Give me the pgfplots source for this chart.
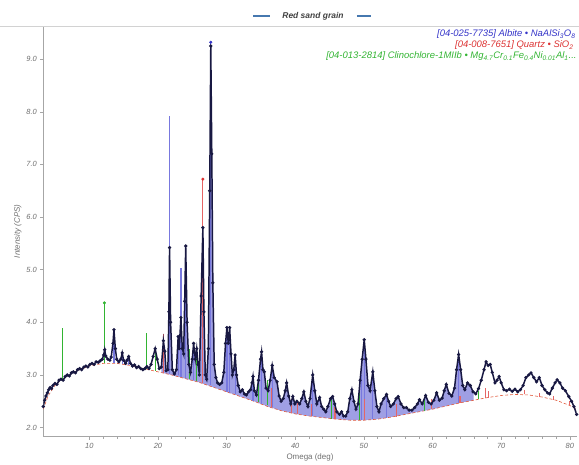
\documentclass[border=0pt]{standalone}
\usepackage{fontspec}
\setmainfont{Liberation Sans}
\usepackage{pgfplots}
\usepackage{pgfplotstable}
\pgfplotsset{compat=1.18}
\usepgfplotslibrary{fillbetween}
\definecolor{obscol}{RGB}{24,24,66}
\definecolor{albcol}{RGB}{52,52,200}
\definecolor{albstick}{RGB}{120,120,222}
\definecolor{albfill}{RGB}{95,95,210}
\definecolor{qzcol}{RGB}{220,50,50}
\definecolor{clcol}{RGB}{50,180,50}
\definecolor{bgcol}{RGB}{225,90,60}
\definecolor{titdash}{RGB}{70,120,175}
\definecolor{txtgray}{RGB}{110,110,110}

\pgfplotstableread{
x y
3.3 2.40
3.5 2.52
3.7 2.60
3.9 2.66
4.1 2.72
4.3 2.76
4.5 2.74
4.7 2.80
5.0 2.84
5.3 2.82
5.6 2.90
5.9 2.92
6.2 2.90
6.5 2.97
6.8 3.00
7.1 2.98
7.4 3.04
7.7 3.06
8.0 3.04
8.3 3.10
8.6 3.12
8.9 3.10
9.2 3.15
9.5 3.17
9.8 3.15
10.1 3.20
10.4 3.22
10.7 3.20
11.0 3.25
11.3 3.24
11.6 3.27
11.9 3.30
12.1 3.38
12.25 3.48
12.4 3.36
12.7 3.30
13.0 3.28
13.2 3.34
13.45 3.60
13.6 3.86
13.8 3.50
14.0 3.30
14.3 3.25
14.6 3.30
14.8 3.42
15.0 3.28
15.3 3.22
15.5 3.28
15.75 3.35
16.0 3.22
16.3 3.17
16.6 3.19
16.9 3.14
17.2 3.16
17.5 3.12
17.8 3.10
18.1 3.12
18.4 3.16
18.7 3.12
19.0 3.20
19.3 3.35
19.6 3.50
19.9 3.30
20.2 3.12
20.5 3.15
20.8 3.65
21.0 3.45
21.2 3.08
21.45 3.10
21.6 4.20
21.7 5.42
21.85 4.00
22.1 3.10
22.4 3.02
22.7 3.10
22.95 3.73
23.1 3.50
23.35 4.09
23.55 3.50
23.75 3.40
23.9 4.40
24.05 5.45
24.25 4.00
24.5 3.20
24.75 3.05
25.0 3.30
25.2 3.60
25.45 3.30
25.65 3.50
25.85 3.20
26.05 3.00
26.3 4.50
26.55 5.80
26.7 4.20
26.9 3.00
27.1 2.92
27.35 3.50
27.55 6.50
27.7 9.25
27.85 7.20
28.0 4.75
28.2 3.20
28.45 2.95
28.7 2.85
29.0 2.82
29.3 2.85
29.6 3.05
29.85 3.60
30.05 3.90
30.25 3.60
30.45 3.90
30.65 3.40
30.85 3.00
31.05 3.10
31.25 3.38
31.45 3.00
31.7 2.80
32.0 2.68
32.3 2.72
32.6 2.64
32.9 2.62
33.2 2.68
33.5 2.72
33.7 2.85
33.85 2.97
34.05 2.70
34.35 2.62
34.65 2.90
34.95 3.30
35.1 3.44
35.3 3.10
35.5 3.06
35.75 2.75
36.05 2.70
36.35 2.90
36.65 3.18
36.95 2.95
37.35 2.87
37.65 2.60
37.95 2.50
38.25 2.55
38.55 2.70
38.75 2.85
39.05 2.60
39.35 2.45
39.65 2.59
39.95 2.45
40.25 2.50
40.65 2.45
40.95 2.55
41.25 2.68
41.55 2.50
41.85 2.40
42.15 2.55
42.55 3.00
42.85 2.70
43.15 2.45
43.55 2.57
43.85 2.40
44.15 2.35
44.45 2.30
44.75 2.40
45.15 2.55
45.45 2.59
45.75 2.45
46.05 2.30
46.45 2.25
46.75 2.30
47.05 2.22
47.35 2.22
47.65 2.30
47.95 2.55
48.25 2.72
48.55 2.50
48.85 2.35
49.15 2.45
49.45 2.90
49.75 3.30
50.05 3.67
50.3 3.30
50.6 2.80
50.9 2.70
51.3 3.06
51.6 2.70
51.9 2.40
52.2 2.30
52.5 2.45
52.9 2.55
53.3 2.63
53.6 2.50
53.9 2.40
54.3 2.45
54.7 2.55
55.0 2.59
55.4 2.45
55.8 2.38
56.2 2.38
56.6 2.33
57.0 2.33
57.4 2.38
57.8 2.45
58.1 2.53
58.5 2.45
59.0 2.61
59.4 2.48
59.8 2.45
60.2 2.52
60.6 2.66
61.0 2.52
61.4 2.56
61.7 2.70
62.0 2.82
62.4 2.65
62.8 2.60
63.2 2.75
63.5 3.10
63.8 3.39
64.1 3.10
64.4 2.80
64.7 2.72
65.1 2.85
65.5 2.80
65.9 2.68
66.3 2.64
66.7 2.74
67.1 2.90
67.5 3.10
67.8 3.25
68.1 3.18
68.4 3.20
68.7 3.05
69.1 2.85
69.4 2.90
69.7 2.97
70.0 2.85
70.4 2.72
70.8 2.70
71.2 2.73
71.6 2.69
72.0 2.73
72.4 2.68
72.8 2.72
73.2 2.80
73.6 2.95
74.0 3.00
74.35 3.04
74.75 2.95
75.15 2.87
75.55 2.95
75.95 2.80
76.35 2.72
76.75 2.66
77.05 2.64
77.45 2.75
77.85 2.85
78.15 2.91
78.55 2.85
78.95 2.75
79.35 2.70
79.85 2.59
80.25 2.50
80.6 2.40
81.0 2.25
}\obsdata

\pgfplotstableread{
x y
3.3 2.35
4 2.60
5 2.80
6 2.92
8 3.07
10 3.17
12 3.22
14 3.22
16 3.18
18 3.12
20 3.06
22 3.00
24 2.93
26 2.86
28 2.77
30 2.68
32 2.59
34 2.50
36 2.40
38 2.32
40 2.26
42 2.22
44 2.19
46 2.16
48 2.14
50 2.14
52 2.16
54 2.20
56 2.25
58 2.30
60 2.35
62 2.41
64 2.47
66 2.52
68 2.57
70 2.61
72 2.63
74 2.62
76 2.58
78 2.52
80 2.42
81 2.35
}\bgdata

\begin{document}
\begin{tikzpicture}
\begin{axis}[
  at={(0,0)}, anchor=south west,
  scale only axis, width=534bp, height=411bp,
  xmin=3.3, xmax=81, ymin=1.83, ymax=9.63,
  set layers,
  axis x line*=bottom, axis y line*=left,
  axis line style={draw=gray!70, line width=0.5pt},
  tick align=outside,
  tick style={draw=gray!70, line width=0.4pt},
  major tick length=3bp, minor tick length=2bp,
  xtick={10,20,...,80}, minor x tick num=4,
  ytick={2,3,...,9},
  yticklabel style={/pgf/number format/.cd, fixed, fixed zerofill, precision=1},
  /pgf/number format/assume math mode=true,
  tick label style={font=\itshape\fontsize{7.5}{9}\selectfont, text=txtgray},
  xlabel={Omega (deg)},
  ylabel={\itshape Intensity (CPS)},
  label style={font=\fontsize{8}{10}\selectfont, text=txtgray},
  xlabel style={yshift=1bp},
  ylabel style={yshift=-2bp},
]
\addplot[name path=bg, bgcol, densely dashed, line width=0.6pt] table[x=x,y=y]{\bgdata};
% sticks: Albite
\addplot[albstick, line width=1.2pt, unbounded coords=jump] coordinates {
(13.6,3.22) (13.6,3.86) (13.6,nan)
(14.8,3.21) (14.8,3.42) (14.8,nan)
(15.75,3.19) (15.75,3.35) (15.75,nan)
(21.7,3.02) (21.7,7.92) (21.7,nan)
(22.95,2.99) (22.95,3.73) (22.95,nan)
(23.35,2.97) (23.35,5.04) (23.35,nan)
(24.05,2.94) (24.05,5.45) (24.05,nan)
(25.2,2.90) (25.2,3.55) (25.2,nan)
(27.7,2.80) (27.7,9.32) (27.7,nan)
(30.05,2.68) (30.05,3.90) (30.05,nan)
(30.45,2.66) (30.45,3.90) (30.45,nan)
(31.25,2.63) (31.25,3.38) (31.25,nan)
(33.85,2.51) (33.85,2.97) (33.85,nan)
(35.1,2.45) (35.1,3.44) (35.1,nan)
(36.65,2.39) (36.65,3.18) (36.65,nan)
(42.55,2.22) (42.55,3.00) (42.55,nan)
(49.6,2.14) (49.6,3.00) (49.6,nan)
(50.05,2.14) (50.05,3.50) (50.05,nan)
(51.3,2.16) (51.3,3.00) (51.3,nan)
(53.3,2.19) (53.3,2.60) (53.3,nan)
(63.8,2.47) (63.8,3.30)
};
% sticks: Quartz
\addplot[qzcol!75, line width=1.1pt, unbounded coords=jump] coordinates {
(20.8,3.04) (20.8,3.77) (20.8,nan)
(26.55,2.84) (26.55,6.72) (26.55,nan)
(36.5,2.40) (36.5,2.75) (36.5,nan)
(39.4,2.28) (39.4,2.55) (39.4,nan)
(40.3,2.26) (40.3,2.50) (40.3,nan)
(42.4,2.22) (42.4,2.45) (42.4,nan)
(45.8,2.17) (45.8,2.40) (45.8,nan)
(50.1,2.14) (50.1,2.55) (50.1,nan)
(54.8,2.21) (54.8,2.45) (54.8,nan)
(59.9,2.35) (59.9,2.55) (59.9,nan)
(64.0,2.47) (64.0,2.60) (64.0,nan)
(67.7,2.56) (67.7,2.75) (67.7,nan)
(68.1,2.57) (68.1,2.70) (68.1,nan)
(73.4,2.63) (73.4,2.72) (73.4,nan)
(75.6,2.59) (75.6,2.66) (75.6,nan)
(77.6,2.53) (77.6,2.60) (77.6,nan)
(79.9,2.43) (79.9,2.50)
};
% sticks: Clinochlore
\addplot[clcol, line width=1.0pt, unbounded coords=jump] coordinates {
(6.1,2.93) (6.1,3.90) (6.1,nan)
(12.2,3.22) (12.2,4.37) (12.2,nan)
(18.4,3.12) (18.4,3.80) (18.4,nan)
(19.6,3.08) (19.6,3.52) (19.6,nan)
(24.6,2.92) (24.6,3.50) (24.6,nan)
(25.6,2.88) (25.6,3.50) (25.6,nan)
(34.6,2.49) (34.6,2.90) (34.6,nan)
(36.0,2.42) (36.0,2.90) (36.0,nan)
(45.3,2.17) (45.3,2.60) (45.3,nan)
(49.4,2.14) (49.4,2.80) (49.4,nan)
(58.9,2.32) (58.9,2.55) (58.9,nan)
(66.7,2.54) (66.7,2.70)
};
% observed pattern
\addplot[name path=obs, obscol, line width=1.5pt, mark=*, mark size=0.75pt, mark options={fill=obscol, draw=obscol}] table[x=x,y=y]{\obsdata};
% profile fill (placed on pre main layer by default)
\addplot[fill=albfill, fill opacity=0.6, draw=none] fill between[of=obs and bg, soft clip={domain=20.5:66}];
% strongest-line markers
\addplot[only marks, mark=*, mark size=1.3pt, albcol] coordinates {(27.7,9.32)};
\addplot[only marks, mark=*, mark size=1.3pt, qzcol] coordinates {(26.55,6.72)};
\addplot[only marks, mark=*, mark size=1.3pt, clcol] coordinates {(12.2,4.37)};
\end{axis}
\path (-43bp,-27bp) rectangle (536bp,437bp);
% top separator
\draw[gray!35, line width=0.6pt] (-43bp,411bp) -- (536bp,411bp);
% title
\node[font=\bfseries\itshape\fontsize{8.5}{10}\selectfont, text=black!75] at (270bp,421bp) {Red sand grain};
\draw[titdash, line width=1.4pt] (210bp,421bp) -- (227bp,421bp);
\draw[titdash, line width=1.4pt] (314bp,421bp) -- (328bp,421bp);
% legend text
\node[anchor=base east, inner sep=0pt, font=\itshape\fontsize{9.5}{11}\selectfont, text=albcol] at (533bp,400bp) {[04-025-7735] Albite \textbullet\ NaAlSi\textsubscript{3}O\textsubscript{8}};
\node[anchor=base east, inner sep=0pt, font=\itshape\fontsize{9.5}{11}\selectfont, text=qzcol] at (531bp,389bp) {[04-008-7651] Quartz \textbullet\ SiO\textsubscript{2}};
\node[anchor=base east, inner sep=0pt, font=\itshape\fontsize{9.5}{11}\selectfont, text=clcol] at (534bp,378bp) {[04-013-2814] Clinochlore-1MIIb \textbullet\ Mg\textsubscript{4.7}Cr\textsubscript{0.1}Fe\textsubscript{0.4}Ni\textsubscript{0.01}Al\textsubscript{1}...};
\end{tikzpicture}
\end{document}
